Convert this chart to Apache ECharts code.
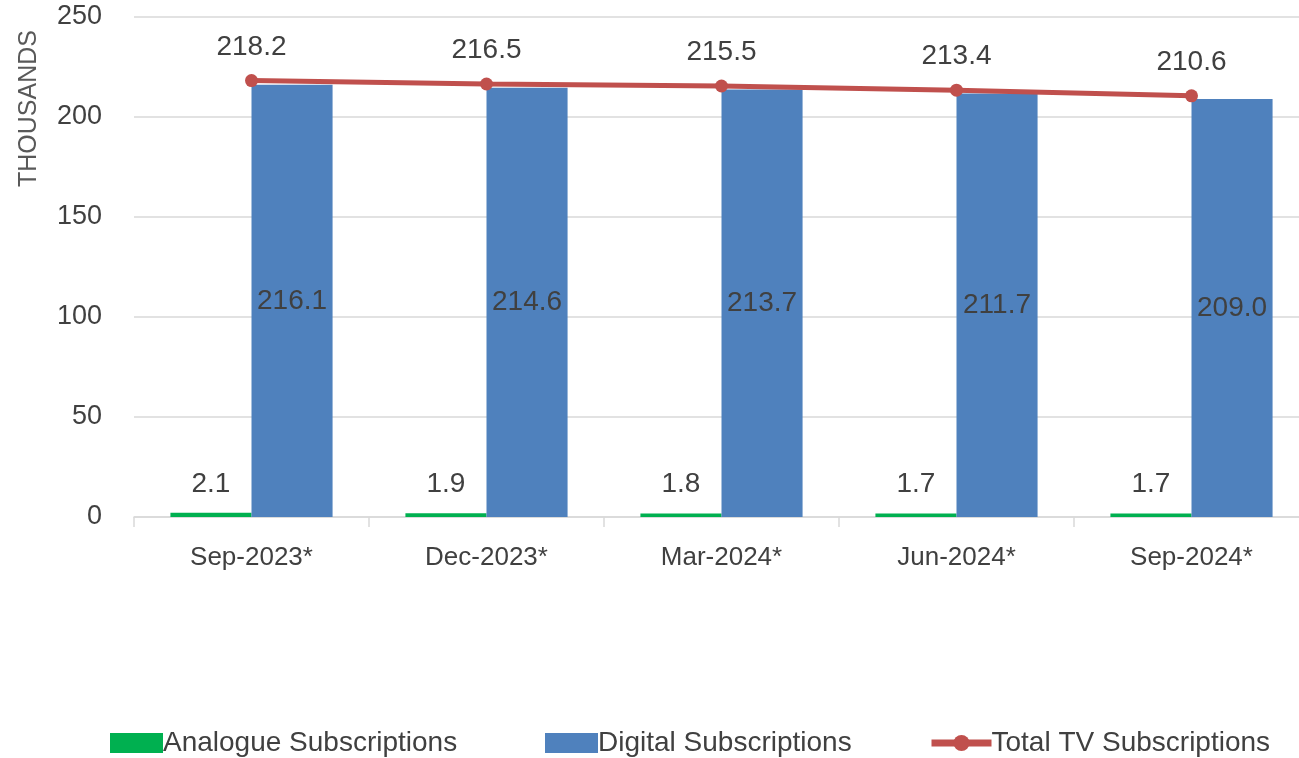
<!DOCTYPE html>
<html>
<head>
<meta charset="utf-8">
<script src="https://cdn.jsdelivr.net/npm/echarts@6/dist/echarts.min.js"></script>
<style>
  html, body { margin: 0; padding: 0; background: #fff; }
  #main { width: 1299px; height: 758px; }
</style>
</head>
<body>
<div id="main"></div>
<script>
const categories = ['Sep-2023*', 'Dec-2023*', 'Mar-2024*', 'Jun-2024*', 'Sep-2024*']
const analogue = [2.1, 1.9, 1.8, 1.7, 1.7]
const digital = [216.1, 214.6, 213.7, 211.7, 209.0]
const total = [218.2, 216.5, 215.5, 213.4, 210.6]
const yTicks = [0, 50, 100, 150, 200, 250]

const textColor = '#404040'
const font = 'Liberation Sans'

const myChart = echarts.init(document.getElementById('main'))
const legendText = { fontSize: 28, lineHeight: 30, color: textColor, fontFamily: font, padding: [0, 0, 0, -5] }
const option = {
  textStyle: { fontFamily: font, color: textColor },
  grid: { left: 134, width: 1175, top: 17, bottom: 241, outerBoundsMode: 'none', containLabel: false },
  legend: [
    {
      data: ['Analogue Subscriptions'],
      left: 105, top: 723, itemWidth: 53, itemHeight: 20, icon: 'rect',
      textStyle: legendText
    },
    {
      data: ['Digital Subscriptions'],
      left: 540, top: 723, itemWidth: 53, itemHeight: 20, icon: 'rect',
      textStyle: legendText
    },
    {
      data: ['Total TV Subscriptions'],
      left: 923, top: 723, itemWidth: 60, itemHeight: 20,
      lineStyle: { width: 7 },
      textStyle: legendText
    }
  ],
  graphic: [{
    type: 'text',
    left: 17, top: 30,
    rotation: Math.PI / 2,
    style: { text: 'THOUSANDS', fontSize: 25, fill: '#595959', fontFamily: font }
  }],
  xAxis: {
    type: 'category',
    data: categories,
    axisLine: { lineStyle: { color: '#d9d9d9', width: 1.5 } },
    axisTick: { show: true, length: 10, lineStyle: { color: '#d9d9d9', width: 1.5 } },
    axisLabel: { fontSize: 26, color: textColor, margin: 28 }
  },
  yAxis: {
    type: 'value',
    min: yTicks[0],
    max: yTicks[yTicks.length - 1],
    interval: 50,
    axisLine: { show: false },
    axisTick: { show: false },
    axisLabel: { fontSize: 27, color: textColor, margin: 32 },
    splitLine: { lineStyle: { color: '#d9d9d9', width: 1.5 } }
  },
  series: [
    {
      name: 'Analogue Subscriptions',
      type: 'bar',
      data: analogue,
      barGap: '0%',
      barCategoryGap: '31%',
      itemStyle: { color: '#00B050' },
      label: { show: true, position: 'top', distance: 15, fontSize: 28, color: textColor }
    },
    {
      name: 'Digital Subscriptions',
      type: 'bar',
      data: digital,
      barGap: '0%',
      barCategoryGap: '31%',
      itemStyle: { color: '#4F81BD' },
      label: {
        show: true, position: 'inside', fontSize: 28, color: textColor,
        formatter: p => p.value.toFixed(1)
      }
    },
    {
      name: 'Total TV Subscriptions',
      type: 'line',
      data: total,
      symbol: 'circle',
      symbolSize: 13,
      lineStyle: { color: '#C0504D', width: 5 },
      itemStyle: { color: '#C0504D' },
      label: {
        show: true, position: 'top', distance: 13, fontSize: 28, color: textColor,
        formatter: p => p.value.toFixed(1)
      },
      z: 5
    }
  ]
}
myChart.setOption(option)
</script>
</body>
</html>
